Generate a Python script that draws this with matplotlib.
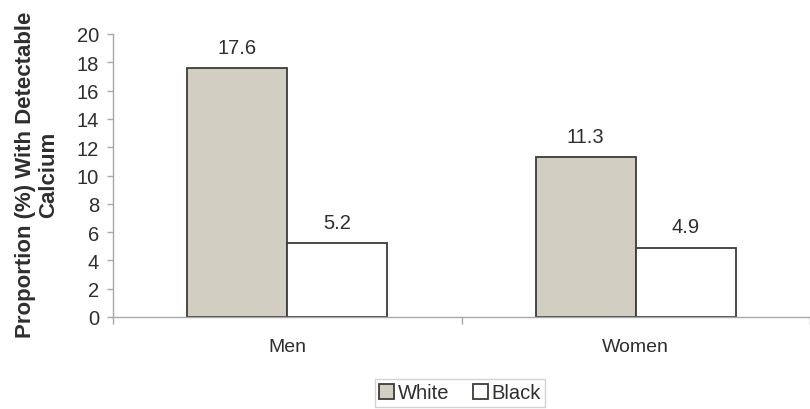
import matplotlib
matplotlib.use('Agg')
import matplotlib.pyplot as plt
from matplotlib.patches import Patch
import numpy as np

# data
groups = ['Men', 'Women']
white = [17.6, 11.3]
black = [5.2, 4.9]

# style
plt.rcParams['font.family'] = ['Liberation Sans', 'DejaVu Sans']
txtcol = '#2e2e2e'
axcol = '#a8a8a8'
edgecol = '#3c3c38'
whitecol = '#d2cfc2'

fig = plt.figure(figsize=(8.1, 4.1), dpi=100)
ax = fig.add_axes([113 / 810, 92 / 410, 697 / 810, 283 / 410])

x = np.arange(len(groups))
w = 0.287
b1 = ax.bar(x - w / 2, white, w, color=whitecol, edgecolor=edgecol, linewidth=1.3, label='White')
b2 = ax.bar(x + w / 2, black, w, color='white', edgecolor=edgecol, linewidth=1.3, label='Black')

for bars, vals in [(b1, white), (b2, black)]:
    for r, v in zip(bars, vals):
        ax.text(r.get_x() + r.get_width() / 2, v + 0.8, '%.1f' % v,
                ha='center', va='bottom', fontsize=14.5, color=txtcol)

# axes
ax.set_xlim(-0.5, 1.463)
ax.set_ylim(0, 20)
ax.set_yticks(np.arange(0, 21, 2))
ax.set_xticks(x)
ax.set_xticklabels(groups)
ax.set_xticks([-0.5, 0.5, 1.5], minor=True)
ax.tick_params(axis='x', which='major', length=0, pad=15, labelsize=14, labelcolor=txtcol)
ax.tick_params(axis='x', which='minor', length=5, color=axcol, width=1)
ax.tick_params(axis='y', length=4, color=axcol, width=1, pad=6, labelsize=14.5, labelcolor=txtcol)

for s in ['top', 'right']:
    ax.spines[s].set_visible(False)
for s in ['left', 'bottom']:
    ax.spines[s].set_color(axcol)
    ax.spines[s].set_linewidth(1)

fig.text(0.046, 0.574, 'Proportion (%) With Detectable\nCalcium', rotation=90,
         ha='center', va='center', fontsize=16, fontweight='bold',
         color=txtcol, multialignment='center', linespacing=1.15)

handles = [Patch(facecolor=whitecol, edgecolor=edgecol, linewidth=1.3, label='White'),
           Patch(facecolor='white', edgecolor=edgecol, linewidth=1.3, label='Black')]
leg = fig.legend(handles=handles, loc='center', bbox_to_anchor=(460 / 810, 1 - 394 / 410),
                 ncol=2, frameon=True, fancybox=False, fontsize=14.5,
                 handlelength=0.75, handleheight=0.75, handletextpad=0.15,
                 columnspacing=1.2, borderpad=0.2, labelcolor=txtcol)
leg.get_frame().set_edgecolor('#c8c8c8')
leg.get_frame().set_linewidth(1)

fig.savefig('out.png', dpi=100)
